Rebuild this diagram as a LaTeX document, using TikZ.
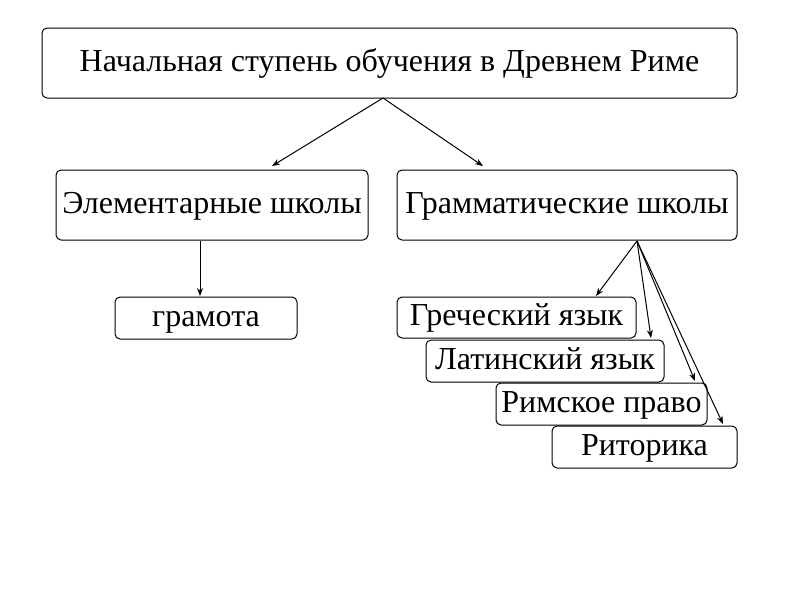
\documentclass[tikz,border=0pt]{standalone}
\usepackage{fontspec}
\usetikzlibrary{arrows.meta}
\setmainfont{Liberation Serif}
\begin{document}
\begin{tikzpicture}[x=1pt,y=-1pt,
 bx/.style={draw,rounded corners=5pt,line width=1pt,inner sep=0pt,text height=22pt,text depth=6pt,font=\fontsize{32}{34}\selectfont},
 ar/.style={-{Stealth[length=8pt,width=6pt]},line width=1pt}]
\useasboundingbox (0,0) rectangle (794,595);
\node[bx,minimum width=695,minimum height=70] (top) at (389.5,63) {Начальная ступень обучения в Древнем Риме};
\node[bx,minimum width=312,minimum height=70] (el) at (212,205) {Элементарные школы};
\node[bx,minimum width=340,minimum height=70] (gr) at (567,205) {Грамматические школы};
\node[bx,minimum width=182,minimum height=42] (gm) at (206,318) {грамота};
\node[bx,minimum width=239,minimum height=41] (g1) at (516.5,317.5) {Греческий язык};
\node[bx,minimum width=238,minimum height=42,fill=white] (g2) at (545,361) {Латинский язык};
\node[bx,minimum width=211,minimum height=42,fill=white] (g3) at (601.5,404) {Римское право};
\node[bx,minimum width=185,minimum height=42,fill=white] (g4) at (644.5,447) {Риторика};
\coordinate (t0) at (383,98);
\coordinate (s0) at (637,241);
\draw[ar] (t0) -- (272,166);
\draw[ar] (t0) -- (483,166);
\draw[ar] (el.south -| 200,0) -- (200,296);
\draw[ar] (s0) -- (596,296);
\draw[ar] (s0) -- (651,338);
\draw[ar] (s0) -- (695,381);
\draw[ar] (s0) -- (723,424);
\end{tikzpicture}
\end{document}
